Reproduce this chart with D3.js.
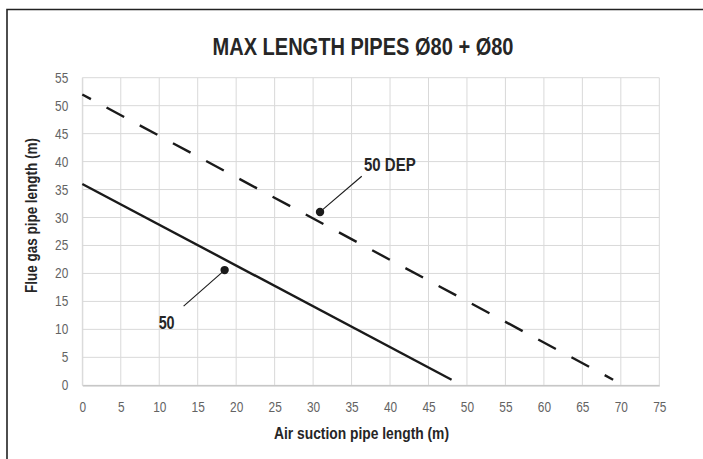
<!DOCTYPE html>
<html>
<head>
<meta charset="utf-8">
<script src="https://cdn.jsdelivr.net/npm/d3@7"></script>
<style>
  html, body { margin: 0; padding: 0; background: #fff; }
  svg { display: block; }
</style>
</head>
<body>
<svg id="chart" width="703" height="459"></svg>
<script>
// Air suction length (x, m) vs flue gas length (y, m) limits
const seriesNames = ["50", "50 DEP"];
const series50 = [[0, 36], [48, 1]];
const series50Dep = [[0, 52], [69, 1]];
// Marker points where each series is labelled
const markerPoints = [[18.5, 20.6], [30.9, 31.0]];
const xTicks = d3.range(0, 76, 5);
const yTicks = d3.range(0, 56, 5);
const titleText = "MAX LENGTH PIPES Ø80 + Ø80";
const xTitle = "Air suction pipe length (m)";
const yTitle = "Flue gas pipe length (m)";

const svg = d3.select("#chart");
const sans = "'Liberation Sans', Arial, sans-serif";
const m = { left: 82.3, right: 659.3, top: 77.7, bottom: 385.3 };

const x = d3.scaleLinear().domain([0, 75]).range([m.left, m.right]);
const y = d3.scaleLinear().domain([0, 55]).range([m.bottom, m.top]);

// Condensed text: squeeze glyphs to a target width
function condense(sel, width) {
  sel.attr("textLength", width).attr("lengthAdjust", "spacingAndGlyphs");
  return sel;
}

// Outer frame (left and top edges visible)
svg.append("path")
  .attr("d", "M7,459 L7,9.5 L703,9.5")
  .attr("fill", "none").attr("stroke", "#222").attr("stroke-width", 1.6);

// Title
condense(svg.append("text")
  .attr("x", 363).attr("y", 55)
  .attr("text-anchor", "middle")
  .attr("font-family", sans).attr("font-weight", "bold")
  .attr("font-size", 24).attr("fill", "#262626")
  .text(titleText), 301);

// Gridlines
const grid = svg.append("g");
grid.selectAll("line.v").data(xTicks).join("line")
  .attr("x1", d => x(d)).attr("x2", d => x(d))
  .attr("y1", m.top).attr("y2", m.bottom)
  .attr("stroke", "#d9d9d9").attr("stroke-width", 1);
grid.selectAll("line.h").data(yTicks).join("line")
  .attr("x1", m.left).attr("x2", m.right)
  .attr("y1", d => y(d)).attr("y2", d => y(d))
  .attr("stroke", "#d9d9d9").attr("stroke-width", 1);

// Axes (labels only, domain line drawn lighter)
const xAxis = svg.append("g")
  .attr("transform", `translate(0,${m.bottom})`)
  .call(d3.axisBottom(x).tickValues(xTicks).tickSize(0).tickPadding(17));
xAxis.select(".domain").attr("stroke", "#bfbfbf").attr("stroke-width", 1.2);
xAxis.selectAll("text")
  .attr("font-family", sans).attr("font-size", 14).attr("fill", "#636363")
  .each(function () { condense(d3.select(this), this.textContent.length * 6.6); });

const yAxis = svg.append("g")
  .attr("transform", `translate(${m.left},0)`)
  .call(d3.axisLeft(y).tickValues(yTicks).tickSize(0).tickPadding(14));
yAxis.select(".domain").attr("stroke", "#d9d9d9");
yAxis.selectAll("text")
  .attr("font-family", sans).attr("font-size", 14).attr("fill", "#636363")
  .each(function () { condense(d3.select(this), this.textContent.length * 6.6); });

// Axis titles
condense(svg.append("text")
  .attr("x", 361.5).attr("y", 439)
  .attr("text-anchor", "middle")
  .attr("font-family", sans).attr("font-weight", "bold")
  .attr("font-size", 17).attr("fill", "#262626")
  .text(xTitle), 175);

condense(svg.append("text")
  .attr("transform", "translate(37,215.5) rotate(-90)")
  .attr("text-anchor", "middle")
  .attr("font-family", sans).attr("font-weight", "bold")
  .attr("font-size", 16.5).attr("fill", "#262626")
  .text(yTitle), 155);

// Series lines
const line = d3.line().x(d => x(d[0])).y(d => y(d[1]));
svg.append("path").datum(series50)
  .attr("d", line).attr("fill", "none")
  .attr("stroke", "#1a1a1a").attr("stroke-width", 2.4);
svg.append("path").datum(series50Dep)
  .attr("d", line).attr("fill", "none")
  .attr("stroke", "#1a1a1a").attr("stroke-width", 2.4)
  .attr("stroke-dasharray", "20 17.7").attr("stroke-dashoffset", 10.2);

// Callouts: dot, leader line, label
const callouts = [
  { p: markerPoints[0], name: seriesNames[0], lx: -41, ly: 36, tx: -66, ty: 59, w: 16 },
  { p: markerPoints[1], name: seriesNames[1], lx: 41.7, ly: -35.7, tx: 44, ty: -40.7, w: 51.7 }
];
const cg = svg.append("g");
callouts.forEach(c => {
  const px = x(c.p[0]), py = y(c.p[1]);
  cg.append("line")
    .attr("x1", px).attr("y1", py)
    .attr("x2", px + c.lx).attr("y2", py + c.ly)
    .attr("stroke", "#1a1a1a").attr("stroke-width", 1.1);
  cg.append("circle")
    .attr("cx", px).attr("cy", py).attr("r", 4.2).attr("fill", "#1a1a1a");
  condense(cg.append("text")
    .attr("x", px + c.tx).attr("y", py + c.ty)
    .attr("font-family", sans).attr("font-weight", "bold")
    .attr("font-size", 18).attr("fill", "#262626")
    .text(c.name), c.w);
});
</script>
</body>
</html>
